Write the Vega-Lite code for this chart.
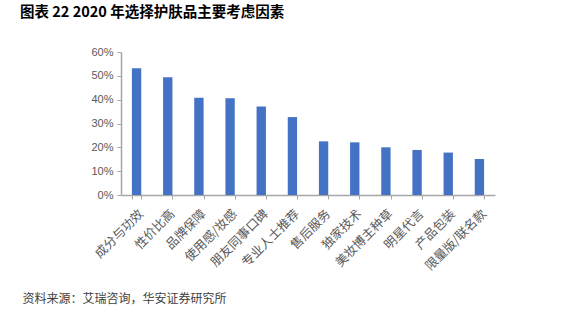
{
  "$schema": "https://vega.github.io/schema/vega-lite/v6.json",
  "width": 374,
  "height": 143,
  "autosize": "none",
  "padding": {"left": 121, "top": 52, "right": 87, "bottom": 121},
  "background": "white",
  "title": {
    "text": "图表 22 2020 年选择护肤品主要考虑因素",
    "anchor": "start",
    "frame": "group",
    "dx": -101,
    "offset": 26,
    "font": "Noto Sans CJK SC",
    "fontSize": 14.5,
    "fontWeight": "bold",
    "color": "#000000"
  },
  "data": {
    "values": [
      {"factor": "成分与功效", "share": 0.532},
      {"factor": "性价比高", "share": 0.494},
      {"factor": "品牌保障", "share": 0.408},
      {"factor": "使用感/妆感", "share": 0.406},
      {"factor": "朋友同事口碑", "share": 0.371},
      {"factor": "专业人士推荐", "share": 0.327},
      {"factor": "售后服务", "share": 0.225},
      {"factor": "独家技术", "share": 0.221},
      {"factor": "美妆博主种草", "share": 0.200},
      {"factor": "明星代言", "share": 0.189},
      {"factor": "产品包装", "share": 0.178},
      {"factor": "限量版/联名款", "share": 0.151}
    ]
  },
  "config": {"view": {"stroke": null}},
  "mark": {"type": "bar", "color": "#4472C4"},
  "encoding": {
    "x": {
      "field": "factor",
      "type": "nominal",
      "sort": null,
      "scale": {"paddingInner": 0.7, "paddingOuter": 0.35},
      "axis": {
        "labelAngle": -45,
        "labelFont": "Noto Sans CJK SC",
        "labelFontSize": 12.5,
        "labelColor": "#595959",
        "labelPadding": 8,
        "domainColor": "#A6A6A6",
        "domainWidth": 1.5,
        "tickColor": "#A6A6A6",
        "tickBand": "extent",
        "tickSize": 4,
        "title": "资料来源：艾瑞咨询，华安证券研究所",
        "titleX": -99,
        "titleY": 103,
        "titleAlign": "left",
        "titleBaseline": "middle",
        "titleFont": "Noto Sans CJK SC",
        "titleFontSize": 12,
        "titleFontWeight": "normal",
        "titleColor": "#404040"
      }
    },
    "y": {
      "field": "share",
      "type": "quantitative",
      "scale": {"domain": [0, 0.6], "nice": false},
      "axis": {
        "values": [0, 0.1, 0.2, 0.3, 0.4, 0.5, 0.6],
        "format": ".0%",
        "grid": false,
        "title": null,
        "labelFont": "Liberation Sans",
        "labelFontSize": 11,
        "labelColor": "#595959",
        "labelPadding": 4,
        "domainColor": "#A6A6A6",
        "domainWidth": 1.5,
        "tickColor": "#A6A6A6",
        "tickSize": 4
      }
    }
  }
}
